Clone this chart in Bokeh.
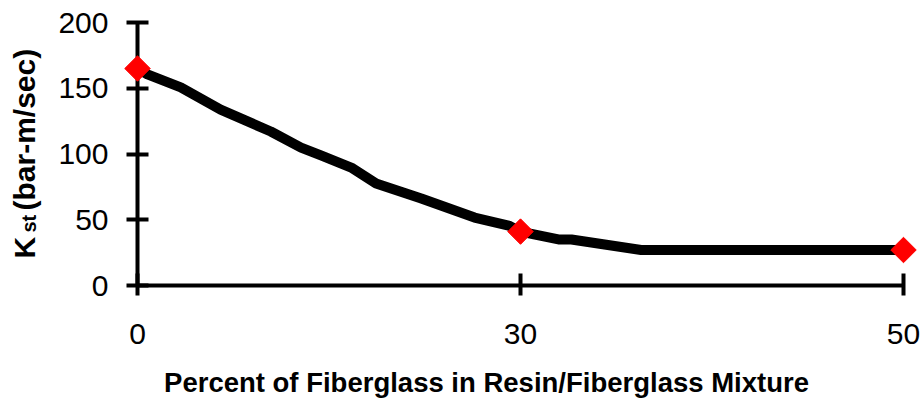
import numpy as np
from bokeh.plotting import figure
from bokeh.models import Range1d, FixedTicker
from bokeh.core.properties import value
from bokeh.embed import file_html
from bokeh.resources import INLINE

# Category axis: fiberglass percentages shown at equally spaced positions
pct_labels = ["0", "30", "50"]
pct_pos = [0, 1, 2]

# Measured Kst values (red diamonds)
kst_points = [165, 41, 27]

# Black trend line (positions along category axis, Kst values)
line_pos = [0, 0.026, 0.113, 0.217, 0.348, 0.427, 0.479, 0.558, 0.623,
            0.741, 0.880, 0.969, 1.0, 1.099, 1.133, 1.315, 2.0]
line_kst = [165, 160.5, 150.6, 133.8, 117.1, 104.9, 98.9, 89.7, 77.6,
            66.2, 51.7, 45.6, 41, 35, 35, 27, 27]

y_ticks = [0, 50, 100, 150, 200]

x_title = "Percent of Fiberglass in Resin/Fiberglass Mixture"
y_title_main = "K"
y_title_sub = "st"
y_title_rest = "(bar-m/sec)"

FONT = "Liberation Sans"

p = figure(width=923, height=400, output_backend="svg", toolbar_location=None,
           x_range=Range1d(0, 2), y_range=Range1d(0, 200),
           min_border_left=137, min_border_right=20, min_border_top=22,
           min_border_bottom=115)
p.outline_line_color = None
p.grid.visible = False
p.background_fill_color = "white"
p.border_fill_color = "white"

p.line(line_pos, line_kst, line_color="black", line_width=10, line_join="round")
p.scatter(pct_pos, kst_points, marker="square", size=18, angle=np.pi / 4,
          fill_color="#FF0000", line_color="#FF0000", level="overlay")

for ax in (p.xaxis[0], p.yaxis[0]):
    ax.axis_line_width = 4
    ax.axis_line_color = "black"
    ax.major_tick_line_width = 4
    ax.major_tick_line_color = "black"
    ax.minor_tick_line_color = None
    ax.major_label_text_font = FONT
    ax.major_label_text_font_size = "30px"
    ax.major_label_text_color = "black"

p.xaxis.ticker = FixedTicker(ticks=pct_pos)
p.xaxis.major_label_overrides = {pos: lab for pos, lab in zip(pct_pos, pct_labels)}
p.xaxis.major_tick_in = 12
p.xaxis.major_tick_out = 10
p.xaxis.major_label_standoff = 28

p.yaxis.ticker = FixedTicker(ticks=y_ticks)
p.yaxis.major_tick_in = 11
p.yaxis.major_tick_out = 11
p.yaxis.major_label_standoff = 18

# Axis titles, anchored at the axes origin with pixel offsets (not clipped)
common = dict(text_font=value(FONT), text_font_style="bold", text_color="black",
              level="overlay")
p.text(x=[0], y=[0], text=[x_title], x_offset=349, y_offset=97,
       text_font_size="27.5px", text_align="center", text_baseline="alphabetic",
       **common)

rot = np.pi / 2
p.text(x=[0], y=[0], text=[y_title_main], x_offset=-113, y_offset=-27, angle=rot,
       text_font_size="30px", text_align="left", text_baseline="alphabetic", **common)
p.text(x=[0], y=[0], text=[y_title_sub], x_offset=-109, y_offset=-53, angle=rot,
       text_font_size="20px", text_align="left", text_baseline="alphabetic", **common)
p.text(x=[0], y=[0], text=[y_title_rest], x_offset=-113, y_offset=-75, angle=rot,
       text_font_size="30px", text_align="left", text_baseline="alphabetic", **common)

open("out.html", "w").write(file_html(p, INLINE))
